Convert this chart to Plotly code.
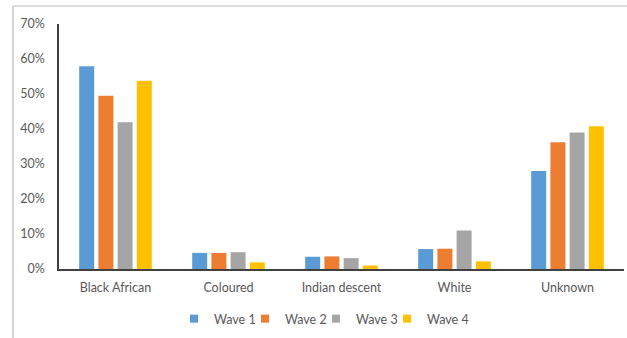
import plotly.graph_objects as go

categories = ["Black African", "Coloured", "Indian descent", "White", "Unknown"]
series_names = ["Wave 1", "Wave 2", "Wave 3", "Wave 4"]
wave1 = [57.9, 4.6, 3.5, 5.7, 28.0]
wave2 = [49.5, 4.6, 3.6, 5.8, 36.2]
wave3 = [41.9, 4.8, 3.1, 11.0, 39.0]
wave4 = [53.8, 1.9, 1.0, 2.2, 40.8]
colors = ["#5B9BD5", "#ED7D31", "#A5A5A5", "#FFC000"]
y_ticks = [0, 10, 20, 30, 40, 50, 60, 70]
y_tick_labels = ["0%", "10%", "20%", "30%", "40%", "50%", "60%", "70%"]

# plot-area geometry in pixels
L, R, T, B, W, H = 59, 3, 24, 69, 627, 338
pw, ph = W - L - R, H - T - B

fig = go.Figure()
legend_ids = ["legend", "legend2", "legend3", "legend4"]
for name, vals, c, lg in zip(series_names, [wave1, wave2, wave3, wave4], colors, legend_ids):
    fig.add_trace(go.Bar(x=categories, y=vals, name=name, marker_color=c,
                         marker_line_width=0, legendgroup=name, showlegend=False))
    # legend-only proxy (no data drawn) to get a small square key
    fig.add_trace(go.Scatter(x=[None], y=[None], mode="markers", name=name,
                             legendgroup=name, legend=lg,
                             marker=dict(symbol="square", size=8, color=c)))

font_family = "Lato, 'Open Sans', sans-serif"
legend_font = dict(size=12.5, color="#595959", family=font_family)
item_starts = [174, 245, 316, 387]
legend_y = (H - B - 319) / ph
leg = {}
for lg, xs in zip(legend_ids, item_starts):
    leg[lg] = dict(orientation="h", x=(xs - L) / pw, xanchor="left", y=legend_y,
                   yanchor="middle", font=legend_font, bgcolor="rgba(0,0,0,0)",
                   itemclick=False, itemdoubleclick=False)

fig.update_layout(
    width=W, height=H,
    margin=dict(l=L, r=R, t=T, b=B),
    paper_bgcolor="white", plot_bgcolor="white",
    barmode="group", bargap=0.32, bargroupgap=0.22,
    font=dict(family=font_family, size=12, color="#595959"),
    showlegend=True,
    xaxis=dict(showline=True, linecolor="#404040", linewidth=1.5,
               showgrid=False, ticks="outside", ticklen=6,
               tickcolor="rgba(0,0,0,0)", fixedrange=True,
               tickfont=dict(size=12.5)),
    yaxis=dict(range=[0, 70], tickmode="array", tickvals=y_ticks, ticktext=y_tick_labels,
               showline=True, linecolor="#404040", linewidth=1.5,
               showgrid=False, zeroline=False, ticks="outside", ticklen=10,
               tickcolor="rgba(0,0,0,0)", fixedrange=True,
               tickfont=dict(size=12.5)),
    **leg,
)

# outer frame (left and top edges)
bx = (13 - L) / pw
ty = (H - B - 6) / ph
by = (H - B - 340) / ph
fig.add_shape(type="line", xref="paper", yref="paper", x0=bx, x1=bx, y0=by, y1=ty,
              line=dict(color="#BBBBBB", width=1.2))
fig.add_shape(type="line", xref="paper", yref="paper", x0=bx, x1=1.01, y0=ty, y1=ty,
              line=dict(color="#BBBBBB", width=1.2))

fig.write_html("out.html")
